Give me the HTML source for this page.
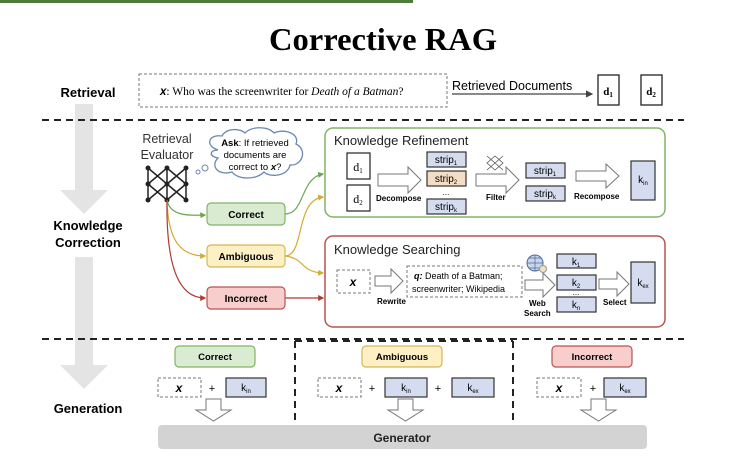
<!DOCTYPE html>
<html><head><meta charset="utf-8"><style>
html,body{margin:0;padding:0;background:#fff;}
svg{display:block;}
text{font-family:"Liberation Sans",sans-serif;}
.s{font-family:"Liberation Serif",serif;}
</style></head><body>
<svg width="731" height="460" viewBox="0 0 731 460" xmlns="http://www.w3.org/2000/svg">
<defs>
<marker id="ar" markerWidth="6" markerHeight="6" refX="5" refY="3" orient="auto"><path d="M0,0 L6,3 L0,6z" fill="#444"/></marker>
<marker id="ag" markerWidth="5" markerHeight="5" refX="4" refY="2.5" orient="auto"><path d="M0,0 L5,2.5 L0,5z" fill="#6aa84f"/></marker>
<marker id="ay" markerWidth="5" markerHeight="5" refX="4" refY="2.5" orient="auto"><path d="M0,0 L5,2.5 L0,5z" fill="#d6a936"/></marker>
<marker id="arr" markerWidth="5" markerHeight="5" refX="4" refY="2.5" orient="auto"><path d="M0,0 L5,2.5 L0,5z" fill="#b03a2e"/></marker>
</defs>
<rect x="0" y="0" width="413" height="3" fill="#4e7a3a"/>
<text x="383" y="50" text-anchor="middle" class="s" font-size="32" font-weight="bold" fill="#000" textLength="228" lengthAdjust="spacingAndGlyphs">Corrective RAG</text>

<!-- gray arrows -->
<rect x="75" y="104" width="18" height="88" fill="#e4e4e4"/>
<path d="M60,190 L108,190 L84,214z" fill="#e4e4e4"/>
<rect x="75" y="257" width="18" height="110" fill="#e4e4e4"/>
<path d="M60,365 L108,365 L84,389z" fill="#e4e4e4"/>

<text x="88" y="97" text-anchor="middle" font-size="13" font-weight="bold">Retrieval</text>
<text x="88" y="230" text-anchor="middle" font-size="13" font-weight="bold">Knowledge</text>
<text x="88" y="247" text-anchor="middle" font-size="13" font-weight="bold">Correction</text>
<text x="88" y="413" text-anchor="middle" font-size="13" font-weight="bold">Generation</text>

<!-- retrieval row -->
<rect x="139" y="74" width="308" height="33" fill="none" stroke="#777" stroke-dasharray="3,2"/>
<text x="160" y="95" class="s" font-size="11.5"><tspan font-family="Liberation Sans" font-weight="bold" font-style="italic">x</tspan>: Who was the screenwriter for <tspan font-style="italic">Death of a Batman</tspan>?</text>
<text x="452" y="90" font-size="12.5">Retrieved Documents</text>
<line x1="452" y1="94" x2="592" y2="94" stroke="#444" stroke-width="1.2" marker-end="url(#ar)"/>
<rect x="598" y="75" width="21" height="30" fill="#fff" stroke="#222" stroke-width="1.3"/>
<text x="608" y="95" text-anchor="middle" class="s" font-size="11" font-weight="bold">d<tspan font-size="7" dy="2">1</tspan></text>
<rect x="641" y="75" width="21" height="30" fill="#fff" stroke="#222" stroke-width="1.3"/>
<text x="651" y="95" text-anchor="middle" class="s" font-size="11" font-weight="bold">d<tspan font-size="7" dy="2">2</tspan></text>

<line x1="42" y1="120" x2="684" y2="120" stroke="#222" stroke-width="2" stroke-dasharray="7,5"/>

<!-- evaluator -->
<text x="167" y="143" text-anchor="middle" font-size="12.5" fill="#333">Retrieval</text>
<text x="167" y="159" text-anchor="middle" font-size="12.5" fill="#333">Evaluator</text>
<g stroke="#222" stroke-width="1.5" fill="none">
<path d="M148,168 L167,184 L186,168 M148,184 L167,168 L186,184 M148,184 L167,200 L186,184 M148,200 L167,184 L186,200 M148,168 L148,200 M167,168 L167,200 M186,168 L186,200"/>
</g>
<g fill="#222"><circle cx="148" cy="168" r="2.5"/><circle cx="167" cy="168" r="2.5"/><circle cx="186" cy="168" r="2.5"/><circle cx="148" cy="184" r="2.5"/><circle cx="167" cy="184" r="2.5"/><circle cx="186" cy="184" r="2.5"/><circle cx="148" cy="200" r="2.5"/><circle cx="167" cy="200" r="2.5"/><circle cx="186" cy="200" r="2.5"/></g>
<!-- cloud -->
<path d="M218,150 C205,146 208,134 222,136 C226,128 240,128 245,133 C252,126 268,126 274,133 C285,128 300,134 296,144 C308,150 302,166 290,165 C288,176 270,178 264,172 C256,180 238,180 232,172 C218,176 210,166 218,158 C208,156 210,150 218,150z" fill="#fff" stroke="#6a8ab0" stroke-width="1.3"/>
<circle cx="205" cy="168" r="3" fill="#fff" stroke="#6a8ab0"/><circle cx="198" cy="172" r="2" fill="#fff" stroke="#6a8ab0"/>
<text x="255" y="146" text-anchor="middle" font-size="9.5"><tspan font-weight="bold">Ask</tspan>: If retrieved</text>
<text x="255" y="158" text-anchor="middle" font-size="9.5">documents are</text>
<text x="255" y="170" text-anchor="middle" font-size="9.5">correct to <tspan font-weight="bold" font-style="italic">x</tspan>?</text>

<!-- connectors -->
<path d="M167,200 C170,215 185,216 205,215" fill="none" stroke="#6aa84f" stroke-width="1.2" marker-end="url(#ag)"/>
<path d="M167,200 C168,240 180,256 205,256" fill="none" stroke="#d6a936" stroke-width="1.2" marker-end="url(#ay)"/>
<path d="M167,200 C166,270 180,298 205,298" fill="none" stroke="#b03a2e" stroke-width="1.2" marker-end="url(#arr)"/>
<path d="M285,214 C305,214 300,178 323,174" fill="none" stroke="#6aa84f" stroke-width="1.2" marker-end="url(#ag)"/>
<path d="M285,256 C305,256 295,200 323,197" fill="none" stroke="#d6a936" stroke-width="1.2" marker-end="url(#ay)"/>
<path d="M285,256 C305,258 300,272 323,273" fill="none" stroke="#d6a936" stroke-width="1.2" marker-end="url(#ay)"/>
<line x1="285" y1="298" x2="323" y2="298" stroke="#b03a2e" stroke-width="1.2" marker-end="url(#arr)"/>

<rect x="207" y="203" width="78" height="22" rx="4" fill="#d9ecd2" stroke="#82b366" stroke-width="1.2"/>
<text x="246" y="218" text-anchor="middle" font-size="10" font-weight="bold">Correct</text>
<rect x="207" y="245" width="78" height="22" rx="4" fill="#fcf0c4" stroke="#d6b656" stroke-width="1.2"/>
<text x="246" y="260" text-anchor="middle" font-size="10" font-weight="bold">Ambiguous</text>
<rect x="207" y="287" width="78" height="22" rx="4" fill="#f8cecc" stroke="#b85450" stroke-width="1.2"/>
<text x="246" y="302" text-anchor="middle" font-size="10" font-weight="bold">Incorrect</text>

<!-- Knowledge Refinement -->
<rect x="325" y="128" width="340" height="89" rx="8" fill="#fff" stroke="#82b366" stroke-width="1.5"/>
<text x="334" y="145" font-size="13" fill="#222">Knowledge Refinement</text>
<rect x="347" y="153" width="23" height="26" fill="#fff" stroke="#222" stroke-width="1.2"/>
<text x="358" y="171" text-anchor="middle" class="s" font-size="12">d<tspan font-size="7" dy="2">1</tspan></text>
<rect x="347" y="185" width="23" height="26" fill="#fff" stroke="#222" stroke-width="1.2"/>
<text x="358" y="203" text-anchor="middle" class="s" font-size="12">d<tspan font-size="7" dy="2">2</tspan></text>
<g fill="#fff" stroke="#777" stroke-width="1">
<path d="M378,174 L408,174 L408,167 L421,180 L408,193 L408,186 L378,186z"/>
<path d="M476,174 L506,174 L506,167 L519,180 L506,193 L506,186 L476,186z"/>
<path d="M576,171 L606,171 L606,164 L619,176 L606,188 L606,181 L576,181z"/>
</g>
<text x="376" y="201" font-size="8" font-weight="bold">Decompose</text>
<text x="486" y="200" font-size="8" font-weight="bold">Filter</text>
<text x="574" y="199" font-size="8" font-weight="bold">Recompose</text>
<g stroke="#333" stroke-width="1.2">
<rect x="427" y="152" width="39" height="15" fill="#d5dcef"/>
<rect x="427" y="171" width="39" height="15" fill="#f5dcc4"/>
<rect x="427" y="199" width="39" height="15" fill="#d5dcef"/>
<rect x="526" y="163" width="39" height="15" fill="#d5dcef"/>
<rect x="526" y="186" width="39" height="15" fill="#d5dcef"/>
<rect x="631" y="161" width="24" height="39" fill="#d5dcef"/>
</g>
<g class="s" font-size="10" text-anchor="middle" font-family="Liberation Serif">
<text x="446" y="163">strip<tspan font-size="6" dy="2">1</tspan></text>
<text x="446" y="182">strip<tspan font-size="6" dy="2">2</tspan></text>
<text x="446" y="195" font-size="8">...</text>
<text x="446" y="210">strip<tspan font-size="6" dy="2">k</tspan></text>
<text x="545" y="174">strip<tspan font-size="6" dy="2">1</tspan></text>
<text x="545" y="197">strip<tspan font-size="6" dy="2">k</tspan></text>
<text x="643" y="183">k<tspan font-size="6" dy="2">in</tspan></text>
</g>
<g stroke="#555" stroke-width="0.8" fill="none"><path d="M487,156 L503,170 M503,156 L487,170 M495,156 L487,163 L495,170 L503,163z"/></g>

<!-- Knowledge Searching -->
<rect x="325" y="236" width="340" height="91" rx="8" fill="#fff" stroke="#b85450" stroke-width="1.5"/>
<text x="334" y="254" font-size="13" fill="#222">Knowledge Searching</text>
<rect x="337" y="270" width="33" height="23" fill="#fff" stroke="#777" stroke-dasharray="3,2"/>
<text x="353" y="286" text-anchor="middle" font-size="12" font-weight="bold" font-style="italic">x</text>
<g fill="#fff" stroke="#777" stroke-width="1">
<path d="M375,276 L391,276 L391,269 L403,281 L391,293 L391,286 L375,286z"/>
<path d="M525,280 L543,280 L543,273 L555,285 L543,297 L543,290 L525,290z"/>
<path d="M599,279 L617,279 L617,272 L629,284 L617,296 L617,289 L599,289z"/>
</g>
<text x="377" y="304" font-size="8" font-weight="bold">Rewrite</text>
<rect x="407" y="266" width="115" height="31" fill="#fff" stroke="#777" stroke-dasharray="3,2"/>
<text x="414" y="279" font-size="9"><tspan font-weight="bold" font-style="italic">q:</tspan> Death of a Batman;</text>
<text x="412" y="292" font-size="9">screenwriter; Wikipedia</text>
<circle cx="535" cy="263" r="8" fill="#c9d6ea" stroke="#4a6a9a" stroke-width="1"/>
<path d="M527,263 L543,263 M535,255 L535,271 M529,258 L541,258 M529,268 L541,268" stroke="#4a6a9a" stroke-width="0.7"/>
<circle cx="543" cy="269" r="3.5" fill="#f5e0c0" stroke="#999"/>
<text x="529" y="306" font-size="8" font-weight="bold">Web</text>
<text x="524" y="316" font-size="8" font-weight="bold">Search</text>
<text x="603" y="305" font-size="8" font-weight="bold">Select</text>
<g stroke="#333" stroke-width="1.2" fill="#d5dcef">
<rect x="557" y="254" width="39" height="14"/>
<rect x="557" y="275" width="39" height="15"/>
<rect x="557" y="297" width="39" height="15"/>
<rect x="631" y="262" width="24" height="41"/>
</g>
<g font-family="Liberation Serif" font-size="10" text-anchor="middle">
<text x="576" y="265">k<tspan font-size="6" dy="2">1</tspan></text>
<text x="576" y="286">k<tspan font-size="6" dy="2">2</tspan></text>
<text x="576" y="295" font-size="8">...</text>
<text x="576" y="308">k<tspan font-size="6" dy="2">n</tspan></text>
<text x="643" y="286">k<tspan font-size="6" dy="2">ex</tspan></text>
</g>

<!-- generation -->
<line x1="42" y1="339" x2="684" y2="339" stroke="#222" stroke-width="2" stroke-dasharray="7,5"/>
<line x1="295" y1="341" x2="295" y2="424" stroke="#222" stroke-width="2" stroke-dasharray="7,5"/>
<line x1="513" y1="341" x2="513" y2="424" stroke="#222" stroke-width="2" stroke-dasharray="7,5"/>
<line x1="295" y1="341" x2="513" y2="341" stroke="#222" stroke-width="2" stroke-dasharray="7,5"/>

<rect x="175" y="346" width="80" height="21" rx="4" fill="#d9ecd2" stroke="#82b366" stroke-width="1.2"/>
<text x="215" y="360" text-anchor="middle" font-size="9.5" font-weight="bold">Correct</text>
<rect x="362" y="346" width="80" height="21" rx="4" fill="#fcf0c4" stroke="#d6b656" stroke-width="1.2"/>
<text x="402" y="360" text-anchor="middle" font-size="9.5" font-weight="bold">Ambiguous</text>
<rect x="552" y="346" width="80" height="21" rx="4" fill="#f8cecc" stroke="#b85450" stroke-width="1.2"/>
<text x="592" y="360" text-anchor="middle" font-size="9.5" font-weight="bold">Incorrect</text>

<g fill="#fff" stroke="#777" stroke-dasharray="3,2">
<rect x="158" y="378" width="43" height="19"/>
<rect x="318" y="378" width="43" height="19"/>
<rect x="537" y="378" width="44" height="19"/>
</g>
<g font-size="12" font-weight="bold" font-style="italic" text-anchor="middle">
<text x="179" y="392">x</text><text x="339" y="392">x</text><text x="559" y="392">x</text>
</g>
<g font-size="11" text-anchor="middle">
<text x="212" y="392">+</text><text x="372" y="392">+</text><text x="438" y="392">+</text><text x="593" y="392">+</text>
</g>
<g stroke="#333" stroke-width="1.2" fill="#d5dcef">
<rect x="226" y="378" width="40" height="19"/>
<rect x="385" y="378" width="42" height="19"/>
<rect x="452" y="378" width="42" height="19"/>
<rect x="604" y="378" width="42" height="19"/>
</g>
<g font-family="Liberation Serif" font-size="10" text-anchor="middle">
<text x="246" y="391">k<tspan font-size="6" dy="2">in</tspan></text>
<text x="406" y="391">k<tspan font-size="6" dy="2">in</tspan></text>
<text x="473" y="391">k<tspan font-size="6" dy="2">ex</tspan></text>
<text x="625" y="391">k<tspan font-size="6" dy="2">ex</tspan></text>
</g>
<g fill="#fff" stroke="#777">
<path d="M206,399 L221,399 L221,410 L231,410 L213.5,421 L196,410 L206,410z"/>
<path d="M398,399 L413,399 L413,410 L423,410 L405.5,421 L388,410 L398,410z"/>
<path d="M591,399 L606,399 L606,410 L616,410 L598.5,421 L581,410 L591,410z"/>
</g>
<rect x="158" y="425" width="489" height="24" rx="4" fill="#d3d3d3"/>
<text x="402" y="442" text-anchor="middle" font-size="12" font-weight="bold" fill="#222">Generator</text>
</svg>
</body></html>
